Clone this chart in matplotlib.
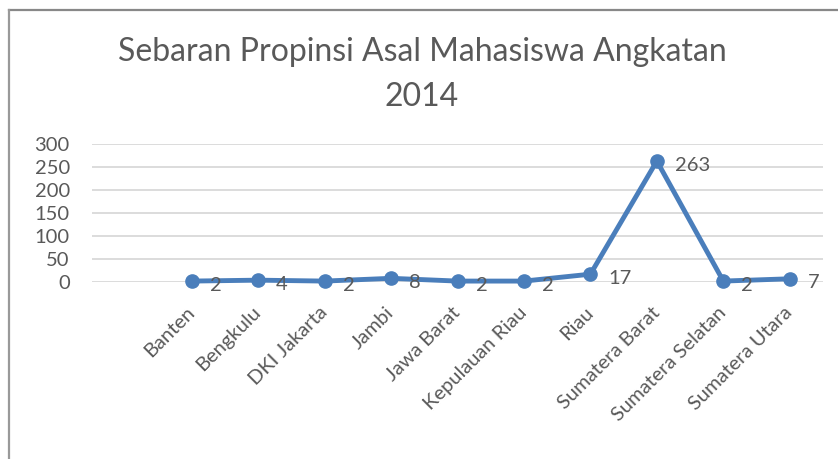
import matplotlib
matplotlib.use("Agg")
import matplotlib.pyplot as plt
import numpy as np

# data (first slot is an empty category)
provinces = ["", "Banten", "Bengkulu", "DKI Jakarta", "Jambi", "Jawa Barat",
             "Kepulauan Riau", "Riau", "Sumatera Barat", "Sumatera Selatan",
             "Sumatera Utara"]
counts = [2, 4, 2, 8, 2, 2, 17, 263, 2, 7]
yticks = [0, 50, 100, 150, 200, 250, 300]

plt.rcParams['font.family'] = ['Lato', 'DejaVu Sans']
txt = '#595959'
blue = '#4a7ebb'

fig = plt.figure(figsize=(8.38, 4.59), dpi=100)
ax = fig.add_axes([92/838, 1-282/459, (823-92)/838, (282-144)/459])

x = np.arange(1, len(provinces))
ax.plot(x, counts, color=blue, lw=3.5, marker='o', ms=9.5, clip_on=False, zorder=3)
for xi, v in zip(x, counts):
    ax.annotate(str(v), (xi, v), xytext=(13, -3), textcoords='offset points',
                ha='left', va='center', fontsize=14.5, color=txt)

ax.set_xlim(-0.5, len(provinces) - 0.5)
ax.set_ylim(0, 300)
ax.set_yticks(yticks)
ax.set_xticks(np.arange(len(provinces)))
ax.set_xticklabels(provinces, rotation=45, ha='right', va='center',
                   rotation_mode='anchor', fontsize=14.5, color=txt)
ax.tick_params(axis='x', length=0, pad=20)
ax.tick_params(axis='y', length=0, pad=16, labelsize=14.5, labelcolor=txt)
ax.grid(axis='y', color='#d9d9d9', lw=1.3)
ax.set_axisbelow(True)
for s in ax.spines.values():
    s.set_visible(False)

fig.text(422/838, 1-52/459, "Sebaran Propinsi Asal Mahasiswa Angkatan",
         ha='center', va='center', fontsize=23, color=txt)
fig.text(422/838, 1-97/459, "2014", ha='center', va='center', fontsize=23, color=txt)

# chart border (only top and left visible in the crop)
fig.add_artist(plt.Line2D([9/838, 1.0], [1-10/459, 1-10/459], color='#888888', lw=1.6))
fig.add_artist(plt.Line2D([9/838, 9/838], [0, 1-10/459], color='#999999', lw=1.6))

fig.savefig("out.png", dpi=100)
